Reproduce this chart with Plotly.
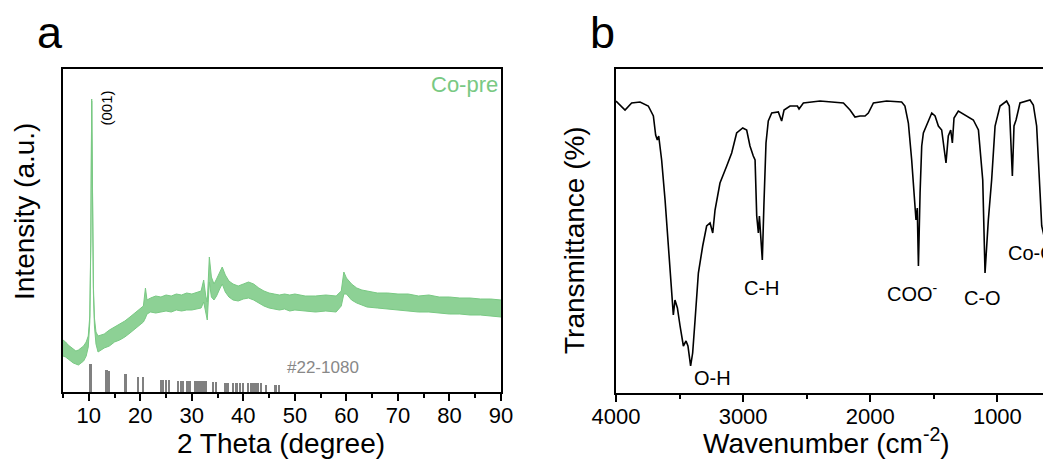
import plotly.graph_objects as go

# ---- panel a: XRD of Co-pre (noisy trace kept as lower/upper envelope) ----
xrd_two_theta = [5.0, 5.5, 6.0, 6.5, 7.0, 7.5, 8.0, 8.5, 9.0, 9.5, 9.9, 10.2, 10.4, 10.57,
                 10.7, 10.9, 11.1, 11.4, 11.8, 12.5, 13.0, 14.0, 15.0, 16.0, 17.0, 18.0,
                 19.0, 20.0, 20.6, 21.0, 21.3, 22.0, 23.0, 24.0, 25.0, 26.0, 27.0, 28.0,
                 29.0, 30.0, 31.0, 31.8, 32.3, 32.7, 33.0, 33.4, 33.8, 34.3, 34.8, 35.4,
                 35.9, 36.5, 37.2, 38.0, 39.0, 40.0, 41.0, 42.0, 43.0, 44.0, 45.0, 46.0,
                 47.0, 48.0, 49.0, 50.0, 52.0, 54.0, 56.0, 58.0, 59.0, 59.5, 60.0, 61.0,
                 62.0, 63.0, 64.0, 66.0, 68.0, 70.0, 72.0, 74.0, 76.0, 78.0, 80.0, 82.0,
                 84.0, 86.0, 88.0, 90.0]
xrd_lower = [36, 35, 33, 31, 29, 28, 27, 29, 31, 36, 45, 70, 150, 291,
             190, 100, 66, 48, 40, 42, 44, 46, 50, 52, 55, 59,
             63, 67, 70, 74, 78, 80, 79, 80, 81, 80, 82, 81,
             82, 82, 83, 84, 90, 80, 72, 110, 95, 92, 96, 103,
             108, 100, 95, 92, 91, 93, 94, 92, 89, 86, 84, 83,
             82, 83, 81, 82, 81, 80, 81, 80, 86, 98, 98, 92,
             89, 87, 85, 84, 83, 82, 81, 80, 80, 79, 78, 78,
             77, 77, 76, 75]
xrd_upper = [52, 50, 47, 45, 43, 41, 42, 44, 46, 50, 56, 76, 155, 293,
             195, 106, 74, 60, 56, 57, 58, 62, 65, 68, 71, 75,
             79, 83, 86, 104, 92, 94, 96, 95, 97, 96, 98, 97,
             99, 98, 100, 101, 112, 96, 90, 135, 115, 108, 113, 120,
             125, 117, 111, 108, 106, 108, 110, 108, 104, 101, 99, 98,
             97, 98, 97, 98, 96, 96, 97, 96, 101, 120, 114, 108,
             104, 102, 101, 99, 99, 98, 98, 96, 97, 95, 95, 94,
             94, 93, 93, 92]

# reference pattern #22-1080 (stick positions / relative heights)
pdf_two_theta = [10.37, 13.5, 13.8, 14.0, 17.2, 19.6, 20.6, 24.0, 24.4, 25.0, 25.6,
                 27.4, 27.9, 28.3, 29.1, 29.6, 30.6, 31.0, 31.4, 31.8, 32.3, 32.8,
                 34.2, 34.8, 36.6, 37.1, 38.1, 38.7, 39.4, 40.0, 41.0, 41.6, 42.2,
                 42.8, 43.5, 44.5, 46.3, 47.0]
pdf_height = [28, 22, 21, 21, 18, 15, 15, 12, 12, 12, 12,
              11, 11, 11, 11, 11, 11, 11, 11, 11, 11, 11,
              10, 10, 9, 9, 9, 9, 9, 9, 9, 9, 9,
              9, 9, 7, 7, 7]

# ---- panel b: FTIR ----
ftir_wavenumber = [4000, 3929, 3877, 3811, 3746, 3706, 3688, 3675, 3664, 3641, 3614, 3588,
                   3562, 3549, 3536, 3517, 3496, 3470, 3449, 3434, 3413, 3397, 3378, 3352,
                   3318, 3287, 3260, 3239, 3221, 3182, 3129, 3090, 3051, 3003, 2972, 2946,
                   2920, 2906, 2893, 2880, 2872, 2859, 2849, 2836, 2820, 2802, 2775, 2723,
                   2697, 2678, 2631, 2573, 2560, 2526, 2395, 2211, 2159, 2120, 2080, 2041,
                   2015, 1975, 1871, 1753, 1727, 1700, 1674, 1648, 1640, 1630, 1621, 1608,
                   1595, 1582, 1556, 1516, 1490, 1464, 1438, 1404, 1386, 1367, 1354, 1341,
                   1307, 1254, 1189, 1149, 1131, 1115, 1097, 1084, 1071, 1045, 1018, 979,
                   927, 906, 895, 882, 869, 853, 822, 743, 717, 691, 664, 651,
                   638, 625, 607, 591, 578]
ftir_transmittance = [292, 283, 290, 291, 287, 277, 258, 253, 257, 233, 193, 147,
                      100, 78, 93, 85, 67, 47, 52, 47, 27, 40, 73, 120,
                      147, 167, 170, 160, 183, 210, 227, 240, 260, 265, 263, 247,
                      237, 233, 177, 160, 177, 147, 133, 190, 250, 272, 280, 281,
                      272, 283, 287, 287, 284, 290, 292, 290, 283, 276, 277, 277,
                      280, 290, 292, 291, 287, 270, 233, 187, 173, 185, 127, 200,
                      247, 260, 268, 280, 277, 267, 263, 230, 257, 263, 250, 275,
                      282, 278, 273, 263, 233, 213, 120, 147, 173, 213, 267, 287,
                      292, 287, 260, 217, 267, 273, 290, 293, 288, 267, 200, 167,
                      160, 152, 200, 267, 273]

ftir_labels = ["O-H", "C-H", "COO<sup>-</sup>", "C-O"]
ftir_label_x = [3238, 2853, 1667, 1118]
ftir_label_y = [15, 105, 101, 95]

W, H = 1051, 459
OFF = 8  # default body margin of the page shifts the figure by this much
FONT = "Arial, Liberation Sans, sans-serif"
GREEN = "#79c983"


def px(x, y):
    # screen pixel -> paper coordinate
    return (x - OFF) / W, 1 - (y - OFF) / H


fig = go.Figure()

fig.add_trace(go.Scatter(x=xrd_two_theta, y=xrd_lower, mode="lines",
                         line=dict(color=GREEN, width=1), xaxis="x", yaxis="y",
                         showlegend=False, hoverinfo="skip"))
fig.add_trace(go.Scatter(x=xrd_two_theta, y=xrd_upper, mode="lines", fill="tonexty",
                         fillcolor="rgba(121,201,131,0.85)", line=dict(color=GREEN, width=1),
                         xaxis="x", yaxis="y", showlegend=False))
fig.add_trace(go.Bar(x=pdf_two_theta, y=pdf_height, width=0.35,
                     marker=dict(color="#808080", line=dict(width=0)),
                     xaxis="x", yaxis="y", showlegend=False))

fig.add_trace(go.Scatter(x=ftir_wavenumber, y=ftir_transmittance, mode="lines",
                         line=dict(color="black", width=1.6), xaxis="x2", yaxis="y2",
                         showlegend=False))

axis_common = dict(showline=True, linecolor="black", linewidth=2, showgrid=False,
                   zeroline=False, ticks="outside", ticklen=7, tickwidth=1.5,
                   tickcolor="black", automargin=False, ticklabelstandoff=-4,
                   tickfont=dict(family=FONT, size=22, color="black"))
yaxis_common = dict(showline=True, linecolor="black", linewidth=2, showticklabels=False,
                    ticks="", showgrid=False, zeroline=False, automargin=False)

ax_l, ax_t = px(63, 69)
ax_r, ax_b = px(501, 392)
bx_l, bx_t = px(616, 69)
bx_r, bx_b = px(1051, 393)

fig.update_layout(
    template="none",
    width=W, height=H,
    margin=dict(l=0, r=0, t=0, b=0, pad=0),
    paper_bgcolor="white", plot_bgcolor="white",
    font=dict(family=FONT, color="black"),
    bargap=0,
    xaxis=dict(domain=[ax_l, ax_r], range=[5, 90], tick0=10, dtick=10, mirror=True,
               minor=dict(dtick=5, tick0=5, ticks="outside", ticklen=4, tickcolor="black"),
               anchor="y", **axis_common),
    yaxis=dict(domain=[ax_b, ax_t], range=[0, 323], mirror=True, anchor="x",
               **yaxis_common),
    xaxis2=dict(domain=[bx_l, bx_r], range=[4000, 578], tick0=0, dtick=1000, mirror=True,
                minor=dict(dtick=500, tick0=0, ticks="outside", ticklen=4, tickcolor="black"),
                anchor="y2", **axis_common),
    yaxis2=dict(domain=[bx_b, bx_t], range=[0, 324], mirror=False, anchor="x2",
                **yaxis_common),
)

ann = []
# panel letters and axis titles (paper coordinates from pixel positions)
for text, X, Y, size, angle in [
    ("a", 50, 33, 45, 0),
    ("b", 602, 32, 45, 0),
    ("2 Theta (degree)", 281, 443, 28, 0),
    ("Intensity (a.u.)", 24, 212, 28, -90),
    ("Wavenumber (cm<sup>-2</sup>)", 826, 441, 28, 0),
    ("Transmittance (%)", 574, 240, 28, -90),
]:
    xp, yp = px(X, Y)
    ann.append(dict(text=text, x=xp, y=yp, xref="paper", yref="paper", showarrow=False,
                    xanchor="center", yanchor="middle", textangle=angle,
                    font=dict(family=FONT, size=size, color="black")))

# panel a labels
ann.append(dict(text="Co-pre", x=89.9, y=308, xref="x", yref="y", showarrow=False,
                xanchor="right", yanchor="middle", font=dict(family=FONT, size=22, color=GREEN)))
ann.append(dict(text="(001)", x=13.25, y=284, xref="x", yref="y", showarrow=False,
                xanchor="center", yanchor="middle", textangle=-90,
                font=dict(family=FONT, size=15, color="black")))
ann.append(dict(text="#22-1080", x=55.5, y=25, xref="x", yref="y", showarrow=False,
                xanchor="center", yanchor="middle", font=dict(family=FONT, size=17, color="#888888")))

# panel b peak labels
for text, wx, ty in zip(ftir_labels, ftir_label_x, ftir_label_y):
    ann.append(dict(text=text, x=wx, y=ty, xref="x2", yref="y2", showarrow=False,
                    xanchor="center", yanchor="middle",
                    font=dict(family=FONT, size=20, color="black")))
ann.append(dict(text="Co-O", x=929, y=140, xref="x2", yref="y2", showarrow=False,
                xanchor="left", yanchor="middle", font=dict(family=FONT, size=20, color="black")))

fig.update_layout(annotations=ann)

fig.write_html("out.html")
